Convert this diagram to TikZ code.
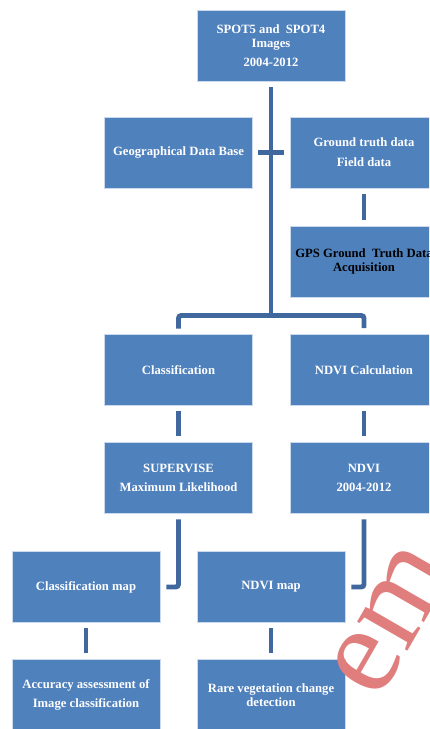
\documentclass[tikz,border=0pt]{standalone}
\usepackage{fontspec}
\setmainfont{Liberation Serif}
\usepackage{tikz}
\definecolor{boxblue}{RGB}{79,129,189}
\definecolor{linkblue}{RGB}{65,104,158}
\definecolor{markred}{RGB}{224,126,126}
\tikzstyle{bag} = [fill=boxblue, draw=white!70!boxblue, line width=0.4pt, minimum width=3.7cm, minimum height=1.775cm, text=white, font=\fontsize{9}{9.5}\selectfont\bfseries, align=center, inner sep=1pt]
\tikzstyle{link} = [draw=linkblue, line width=3.5pt, rounded corners=2pt, shorten <=0.14cm, shorten >=0.15cm]
\tikzstyle{stamp} = [text=markred, font=\fontsize{90}{90}\selectfont, rotate=60, inner sep=0pt]

\begin{document}
\begin{tikzpicture}
  \useasboundingbox (0,0) rectangle (10.725,-18.225);
  \clip (0,0) rectangle (10.725,-18.225);
  \node (a) at ( 6.775,-1.15) [bag] {SPOT5 and\ \ SPOT4\\Images\\[4.5pt]2004-2012};
  \node (b) at ( 4.4625,-3.8125) [bag] {Geographical Data Base};
  \node (c) at ( 9.1,-3.8125) [bag] {Ground truth data\\[4.5pt]Field data};
  \node (d) at ( 9.1,-6.5375) [bag, text=black] {GPS Ground\ \ Truth Data\\Acquisition};
  \node (e) at ( 4.4625,-9.25) [bag] {Classification};
  \node (f) at ( 9.1,-9.25) [bag] {NDVI Calculation};
  \node (g) at ( 4.4625,-11.95) [bag] {SUPERVISE\\[4.5pt]Maximum Likelihood};
  \node (h) at ( 9.1,-11.95) [bag] {NDVI\\[4.5pt]2004-2012};
  \node (i) at ( 2.15,-14.675) [bag] {Classification map};
  \node (j) at ( 6.775,-14.675) [bag] {NDVI map};
  \node (k) at ( 2.15,-17.375) [bag] {Accuracy assessment of\\[4.5pt]Image classification};
  \node (l) at ( 6.775,-17.375) [bag] {Rare vegetation change\\detection};
  \coordinate (s) at ( 6.775,-7.8875);
  \draw [link, shorten >=0pt] (a) -- (s);
  \draw [link] (e) |- (s) -| (f);
  \draw [link] (b) -- (c);
  \draw [link] (c) -- (d);
  \draw [link] (e) -- (g);
  \draw [link] (f) -- (h);
  \draw [link] (g) |- (i);
  \draw [link] (h) |- (j);
  \draw [link] (i) -- (k);
  \draw [link] (j) -- (l);
  \node (w) at ( 9.45,-17.55) [stamp, anchor=base west] {em};
\end{tikzpicture}
\end{document}
